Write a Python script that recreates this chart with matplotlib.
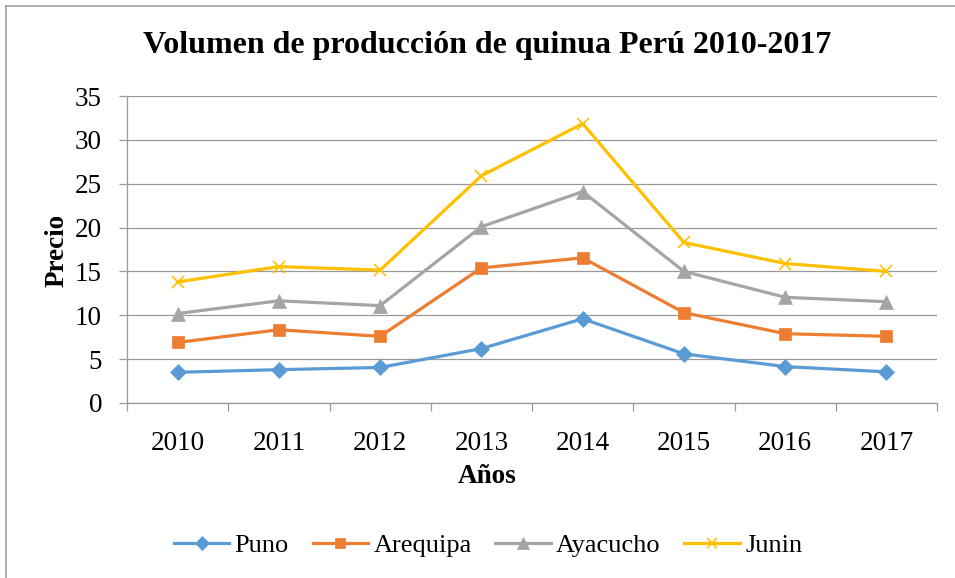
import matplotlib
matplotlib.use('Agg')
import matplotlib.pyplot as plt
from matplotlib.lines import Line2D

plt.rcParams['font.family'] = ['Liberation Serif', 'DejaVu Serif']

# datos
years = ['2010', '2011', '2012', '2013', '2014', '2015', '2016', '2017']
puno = [3.5, 3.8, 4.05, 6.2, 9.6, 5.6, 4.15, 3.55]
arequipa = [6.9, 8.35, 7.6, 15.4, 16.55, 10.3, 7.9, 7.6]
ayacucho = [10.2, 11.65, 11.1, 20.1, 24.1, 15.0, 12.05, 11.55]
junin = [13.8, 15.55, 15.15, 25.9, 31.85, 18.3, 15.9, 15.0]

series = [
    ('Puno', puno, '#5B9BD5', 'D', 8.5),
    ('Arequipa', arequipa, '#ED7D31', 's', 9),
    ('Ayacucho', ayacucho, '#A5A5A5', '^', 10.5),
    ('Junin', junin, '#FFC000', 'x', 9),
]

fig = plt.figure(figsize=(9.55, 5.78), dpi=100)
ax = fig.add_axes([0.133, 0.3028, 0.8482, 0.5311])

x = list(range(len(years)))
for name, vals, color, marker, ms in series:
    ax.plot(x, vals, color=color, lw=2.3, marker=marker, markersize=ms,
            markeredgewidth=1.2 if marker == 'x' else 0.5,
            markeredgecolor=color, label=name)

ax.set_xlim(-0.5, len(years) - 0.5)
ax.set_ylim(0, 35)
ax.set_yticks(range(0, 36, 5))
ax.set_xticks(x)
ax.set_xticklabels(years)
ax.set_xticks([i - 0.5 for i in range(len(years) + 1)], minor=True)
ax.tick_params(axis='x', which='major', length=0, pad=20, labelsize=19.5)
ax.tick_params(axis='x', which='minor', length=6, color='#999999', width=0.9)
ax.tick_params(axis='y', length=6, color='#999999', width=0.9, labelsize=19.5, pad=12)

ax.grid(axis='y', color='#999999', lw=0.9)
ax.set_axisbelow(True)
for s in ['top', 'right']:
    ax.spines[s].set_visible(False)
for s in ['left', 'bottom']:
    ax.spines[s].set_color('#999999')
    ax.spines[s].set_linewidth(0.9)

fig.text(0.51, 0.921, 'Volumen de producción de quinua Perú 2010-2017',
         ha='center', va='center', fontsize=23, fontweight='bold')
fig.text(0.51, 0.176, 'Años', ha='center', va='center', fontsize=19.5, fontweight='bold')
fig.text(0.06, 0.567, 'Precio', ha='center', va='center', rotation=90,
         fontsize=19.5, fontweight='bold')

fig.legend(loc='center', bbox_to_anchor=(0.511, 0.056), ncol=4, frameon=False,
           fontsize=19, handlelength=2.1, columnspacing=0.9, handletextpad=0.2,
           markerscale=0.85)

# borde del area del grafico
fig.add_artist(Line2D([6 / 955, 6 / 955], [0, 1 - 6 / 578], color='#a0a0a0', lw=1.2))
fig.add_artist(Line2D([6 / 955, 1], [1 - 6 / 578, 1 - 6 / 578], color='#a0a0a0', lw=1.2))

fig.savefig('out.png', dpi=100)
